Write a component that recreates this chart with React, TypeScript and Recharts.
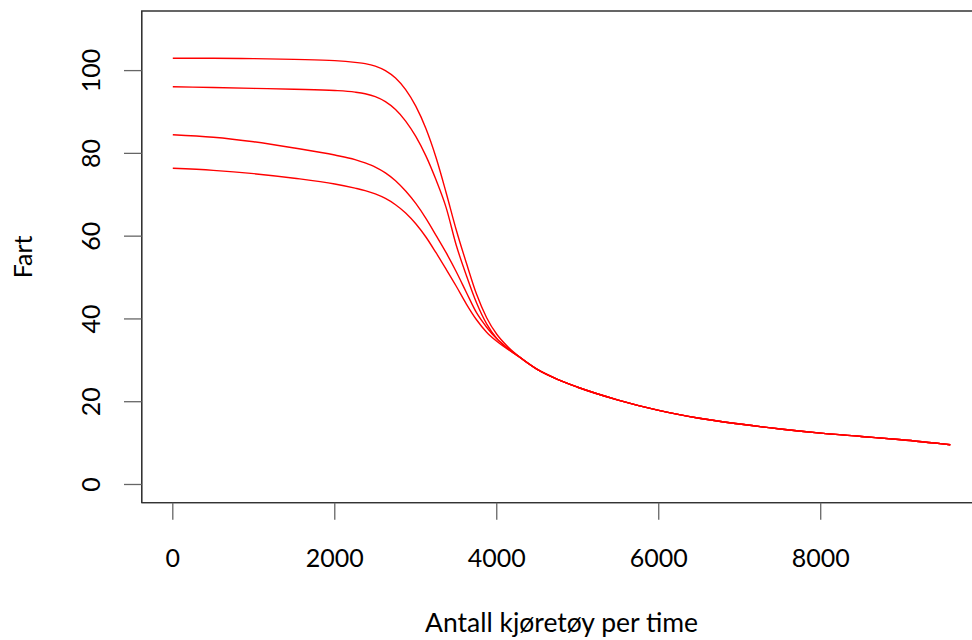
import React from "react";
import { LineChart, Line, XAxis, YAxis, ReferenceArea } from "recharts";

// Flow (vehicles per hour)
const flow = [0, 500, 1000, 1500, 2000, 2250, 2375, 2500, 2625, 2750, 2875, 3000, 3125, 3250, 3375, 3500, 3625, 3750, 3875, 4000, 4125, 4250, 4500, 4750, 5000, 5500, 6000, 6500, 7000, 7500, 8000, 8500, 9000, 9600];

// Speed curves (Fart)
const speedA = [103.0, 103.0, 102.9, 102.7, 102.4, 102.0, 101.7, 101.1, 100.0, 98.2, 95.4, 91.4, 86.0, 79.0, 70.5, 61.5, 53.5, 46.0, 40.3, 36.3, 33.5, 31.3, 27.8, 25.4, 23.5, 20.4, 17.9, 16.0, 14.6, 13.4, 12.4, 11.6, 10.8, 9.6];
const speedB = [96.1, 95.9, 95.7, 95.5, 95.2, 94.8, 94.4, 93.7, 92.5, 90.6, 87.8, 84.1, 79.4, 73.6, 66.9, 57.8, 50.5, 43.9, 38.8, 35.3, 33.0, 31.2, 27.8, 25.4, 23.5, 20.4, 17.9, 16.0, 14.6, 13.4, 12.4, 11.6, 10.8, 9.6];
const speedC = [84.5, 83.9, 82.8, 81.3, 79.6, 78.5, 77.7, 76.7, 75.3, 73.4, 70.9, 67.9, 64.3, 60.2, 56.0, 51.4, 46.4, 41.5, 38.0, 35.2, 33.1, 31.3, 27.8, 25.4, 23.5, 20.4, 17.9, 16.0, 14.6, 13.4, 12.4, 11.6, 10.8, 9.6];
const speedD = [76.4, 75.9, 75.1, 74.0, 72.6, 71.6, 71.0, 70.2, 69.1, 67.6, 65.6, 63.0, 59.8, 56.0, 52.0, 47.9, 43.6, 39.8, 36.8, 34.6, 32.8, 31.2, 27.8, 25.4, 23.5, 20.4, 17.9, 16.0, 14.6, 13.4, 12.4, 11.6, 10.8, 9.6];

const xTicks = [0, 2000, 4000, 6000, 8000];
const yTicks = [0, 20, 40, 60, 80, 100];
const xDomain = [-384, 9984];
const yDomain = [-4.4, 114.4];

const xTitle = "Antall kjøretøy per time";
const yTitle = "Fart";

const data = flow.map((q, i) => ({
  q,
  a: speedA[i],
  b: speedB[i],
  c: speedC[i],
  d: speedD[i],
}));

const FONT = "Lato, 'Open Sans', sans-serif";
const FS = 25;

const XTick = (props: any) => {
  const { x, y, payload } = props;
  return (
    <text x={x} y={y + 47} textAnchor="middle" fontFamily={FONT} fontSize={FS} fill="#000">
      {payload.value}
    </text>
  );
};

const YTick = (props: any) => {
  const { x, y, payload } = props;
  const bx = x - 24;
  return (
    <text
      x={bx}
      y={y}
      textAnchor="middle"
      fontFamily={FONT}
      fontSize={FS}
      fill="#000"
      transform={`rotate(-90, ${bx}, ${y})`}
    >
      {payload.value}
    </text>
  );
};

const W = 990;
const H = 640;
const M = { top: 11, right: 8.6, left: 81.7, bottom: 77.3 };

export default function App() {
  const plotLeft = M.left + 60;
  const plotRight = W - M.right;
  const plotTop = M.top;
  const plotBottom = H - M.bottom - 60;
  return (
    <div style={{ position: "absolute", left: 0, top: 0, width: 972, height: 640, overflow: "hidden", background: "#fff" }}>
      <LineChart width={W} height={H} data={data} margin={M}>
        <ReferenceArea
          x1={xDomain[0]}
          x2={xDomain[1]}
          y1={yDomain[0]}
          y2={yDomain[1]}
          fill="none"
          stroke="#333"
          strokeWidth={1.3}
          ifOverflow="visible"
        />
        <XAxis
          dataKey="q"
          type="number"
          domain={xDomain}
          allowDataOverflow
          ticks={xTicks}
          tick={<XTick />}
          tickSize={17}
          tickMargin={0}
          height={60}
          axisLine={{ stroke: "#333", strokeWidth: 1.3 }}
          tickLine={{ stroke: "#666", strokeWidth: 1.3 }}
        />
        <YAxis
          type="number"
          domain={yDomain}
          allowDataOverflow
          ticks={yTicks}
          tick={<YTick />}
          tickSize={17.7}
          tickMargin={0}
          width={60}
          axisLine={{ stroke: "#333", strokeWidth: 1.3 }}
          tickLine={{ stroke: "#666", strokeWidth: 1.3 }}
        />
        <Line type="monotone" dataKey="a" stroke="#ff0000" strokeWidth={1.4} dot={false} isAnimationActive={false} />
        <Line type="monotone" dataKey="b" stroke="#ff0000" strokeWidth={1.4} dot={false} isAnimationActive={false} />
        <Line type="monotone" dataKey="c" stroke="#ff0000" strokeWidth={1.4} dot={false} isAnimationActive={false} />
        <Line type="monotone" dataKey="d" stroke="#ff0000" strokeWidth={1.4} dot={false} isAnimationActive={false} />
        <text
          x={(plotLeft + plotRight) / 2}
          y={plotBottom + 129}
          textAnchor="middle"
          fontFamily={FONT}
          fontSize={26.5}
          fill="#000"
        >
          {xTitle}
        </text>
        <text
          x={31.7}
          y={(plotTop + plotBottom) / 2}
          textAnchor="middle"
          fontFamily={FONT}
          fontSize={FS}
          fill="#000"
          transform={`rotate(-90, 31.7, ${(plotTop + plotBottom) / 2})`}
        >
          {yTitle}
        </text>
      </LineChart>
    </div>
  );
}
